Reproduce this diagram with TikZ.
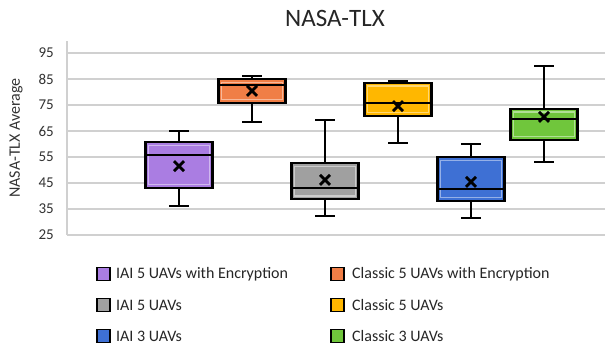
\documentclass[tikz,border=0pt]{standalone}
\usepackage{fontspec}
\setmainfont{Carlito}
\definecolor{boxpurple}{RGB}{170,125,226}
\definecolor{boxorange}{RGB}{240,126,70}
\definecolor{boxgray}{RGB}{160,160,160}
\definecolor{boxyellow}{RGB}{255,183,0}
\definecolor{boxblue}{RGB}{62,112,212}
\definecolor{boxgreen}{RGB}{112,198,60}
\definecolor{gridgray}{RGB}{208,208,208}
\begin{document}
\begin{tikzpicture}[x=1pt, y=1pt]
    \tikzstyle{grid}=[draw=gridgray, line width=1.8pt]
    \tikzstyle{edge}=[draw=black, line width=2.3pt]
    \tikzstyle{tick}=[left, inner sep=0pt, font=\fontsize{15}{15}\selectfont, text=black!80]
    \tikzstyle{legend}=[right, inner sep=0pt, font=\fontsize{16}{16}\selectfont, text=black!85]
    \useasboundingbox (0,0) rectangle (608,346);
    \fill [white] (0,0) rectangle (608,346);

    % draw title and axis label
    \node [font=\fontsize{25}{25}\selectfont, text=black!85] (title) at (335,328) {NASA-TLX};
    \node [rotate=90, font=\fontsize{16}{16}\selectfont, text=black!80] (ylabel) at (16,208) {NASA-TLX Average};

    \begin{scope}[y=2.6pt, yshift=46pt]
    % draw grid
    \foreach \v in {25,35,...,95}
    {
    \draw [grid] (67,\v) -- (605,\v);
    \node [tick] (tick-\v) at (54,\v) {\v};
    }
    \draw [grid] (67,25) -- (67,99.5);

    % draw boxes
    \foreach \c/\lo/\qa/\me/\qb/\hi/\mn [count=\i] in {
      boxpurple/36.2/43.1/55.8/60.8/65/51.5,
      boxorange/68.5/75.8/82.7/85/86.2/80.4,
      boxgray/32.3/38.8/43.1/52.7/69.2/46.2,
      boxyellow/60.4/70.8/75.8/83.5/84.2/74.6,
      boxblue/31.5/38.1/42.7/55/60/45.4,
      boxgreen/53.1/61.5/69.6/73.5/90/70.4}
    {
    \pgfmathsetmacro{\xc}{106+73*\i}
    \coordinate (top-\i) at (\xc,\hi);
    \coordinate (bottom-\i) at (\xc,\lo);
    \draw [edge] (top-\i) -- (\xc,\qb) (bottom-\i) -- (\xc,\qa);
    \draw [edge] ([xshift=-10pt]top-\i) -- ([xshift=10pt]top-\i);
    \draw [edge] ([xshift=-10pt]bottom-\i) -- ([xshift=10pt]bottom-\i);
    \fill [\c] (\xc-33.5,\qa) rectangle (\xc+33.5,\qb);
    \draw [\c!55!white, line width=1.2pt] ([shift={(3.2pt,3.2pt)}]\xc-33.5,\qa) rectangle ([shift={(-3.2pt,-3.2pt)}]\xc+33.5,\qb);
    \draw [edge] (\xc-33.5,\qa) rectangle (\xc+33.5,\qb);
    \draw [edge] (\xc-33.5,\me) -- (\xc+33.5,\me);
    \coordinate (mean-\i) at (\xc,\mn);
    \draw [draw=black, line width=2.8pt] ([shift={(-5pt,-5pt)}]mean-\i) -- ([shift={(5pt,5pt)}]mean-\i)
          ([shift={(-5pt,5pt)}]mean-\i) -- ([shift={(5pt,-5pt)}]mean-\i);
    }
    \end{scope}

    % draw legend
    \foreach \c/\l [count=\i] in {boxpurple/IAI 5 UAVs with Encryption, boxgray/IAI 5 UAVs, boxblue/IAI 3 UAVs}
    {
    \filldraw [fill=\c, draw=black, line width=1.8pt] (97,103-31*\i) ++(0,6.5) rectangle +(13,-13);
    \node [legend] (legend-\i) at (116,103-31*\i) {\l};
    }
    \foreach \c/\l [count=\i] in {boxorange/Classic 5 UAVs with Encryption, boxyellow/Classic 5 UAVs, boxgreen/Classic 3 UAVs}
    {
    \filldraw [fill=\c, draw=black, line width=1.8pt] (331,103-31*\i) ++(0,6.5) rectangle +(13,-13);
    \node [legend] (legend2-\i) at (352,103-31*\i) {\l};
    }
\end{tikzpicture}
\end{document}
